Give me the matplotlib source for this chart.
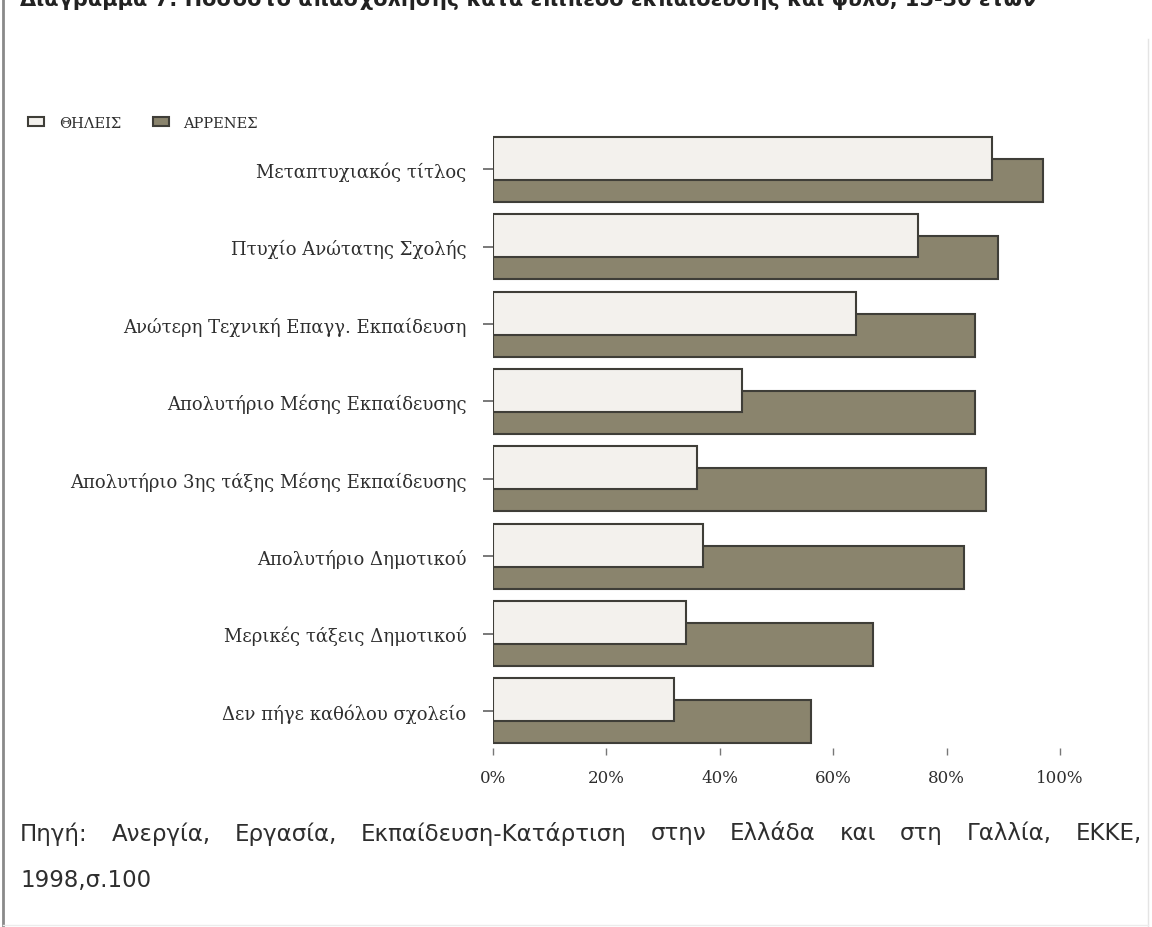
import matplotlib
matplotlib.use("Agg")
import matplotlib.pyplot as plt
from matplotlib.patches import Patch
from matplotlib.lines import Line2D
import numpy as np

# Education levels (top to bottom)
categories = [
    "Μεταπτυχιακός τίτλος",
    "Πτυχίο Ανώτατης Σχολής",
    "Ανώτερη Τεχνική Επαγγ. Εκπαίδευση",
    "Απολυτήριο Μέσης Εκπαίδευσης",
    "Απολυτήριο 3ης τάξης Μέσης Εκπαίδευσης",
    "Απολυτήριο Δημοτικού",
    "Μερικές τάξεις Δημοτικού",
    "Δεν πήγε καθόλου σχολείο",
]
female = [88, 75, 64, 44, 36, 37, 34, 32]
male = [97, 89, 85, 85, 87, 83, 67, 56]
series_names = ["ΘΗΛΕΙΣ", "ΑΡΡΕΝΕΣ"]
xtick_values = [0, 20, 40, 60, 80, 100]
xtick_labels = ["0%", "20%", "40%", "60%", "80%", "100%"]
title_text = "Διάγραμμα 7: Ποσοστό απασχόλησης κατά επίπεδο εκπαίδευσης και φύλο, 15-30 ετών"
source_line1 = "Πηγή: Ανεργία, Εργασία, Εκπαίδευση-Κατάρτιση στην Ελλάδα και στη Γαλλία, ΕΚΚΕ,"
source_line2 = "1998,σ.100"

FEMALE_FILL = "#f3f1ed"
MALE_FILL = "#8a846d"
EDGE = "#3f3e38"
TEXT = "#2e2e2e"
SERIF = ["DejaVu Serif"]
SANS = ["DejaVu Sans"]

W, H = 1152, 928
fig = plt.figure(figsize=(W / 100, H / 100), dpi=100)
fig.patch.set_facecolor("white")

# Plot area in pixel terms: x 493..1060, y 124..749
left, right = 493 / W, 1060 / W
top, bottom = 1 - 124 / H, 1 - 749 / H
ax = fig.add_axes([left, bottom, right - left, top - bottom])

y = np.arange(len(categories))
bar_h = 0.555
offset = 0.142
ax.barh(y + offset, male, height=bar_h, color=MALE_FILL, edgecolor=EDGE,
        linewidth=1.5, zorder=2, label=series_names[1])
ax.barh(y - offset, female, height=bar_h, color=FEMALE_FILL, edgecolor=EDGE,
        linewidth=1.5, zorder=3, label=series_names[0])

ax.set_xlim(0, 100)
ax.set_ylim(7.48, -0.6)
for s in ax.spines.values():
    s.set_visible(False)

ax.set_yticks(y)
ax.set_yticklabels(categories, family=SERIF, fontsize=13, color=TEXT)
ax.set_xticks(xtick_values)
ax.set_xticklabels(xtick_labels, family=SERIF, fontsize=12, color=TEXT)
ax.tick_params(axis="y", length=7, width=1.1, pad=12, color="#555555")
ax.tick_params(axis="x", length=5, width=1.0, pad=10, color="#777777")

# Legend in the upper-left corner
handles = [
    Patch(facecolor=FEMALE_FILL, edgecolor=EDGE, linewidth=1.5),
    Patch(facecolor=MALE_FILL, edgecolor=EDGE, linewidth=1.5),
]
fig.legend(handles, series_names, loc="center left",
           bbox_to_anchor=(28 / W, 1 - 124 / H), ncol=2, frameon=False,
           prop={"family": SERIF, "size": 10.5}, handlelength=1.1,
           handleheight=0.55, handletextpad=1.0, columnspacing=2.2,
           borderaxespad=0, borderpad=0, labelcolor=TEXT)

# Title line along the top edge
fig.text(20 / W, 1 - 6 / H, title_text, family=SANS, fontsize=15,
         fontweight="bold", color="#222222", va="baseline", ha="left")


def justified_line(text, x0, x1, yc, **kw):
    words = text.split(" ")
    renderer = fig.canvas.get_renderer()
    arts = [fig.text(0, yc, w, va="center", ha="left", **kw) for w in words]
    widths = [a.get_window_extent(renderer).width for a in arts]
    gap = ((x1 - x0) - sum(widths)) / (len(words) - 1)
    x = x0
    for a, wd in zip(arts, widths):
        a.set_x(x / W)
        x += wd + gap


justified_line(source_line1, 20, 1142, 1 - 834 / H, family=SANS,
               fontsize=16.5, color=TEXT)
fig.text(20 / W, 1 - 881 / H, source_line2, family=SANS, fontsize=16.5,
         color=TEXT, va="center", ha="left")

# Page frame
fig.add_artist(Line2D([3 / W, 3 / W], [0, 1], color="#8a8a8a", lw=2.0))
fig.add_artist(Line2D([1148 / W, 1148 / W], [0, 1 - 40 / H], color="#e4e4e4", lw=1.0))
fig.add_artist(Line2D([3 / W, 1148 / W], [2 / H, 2 / H], color="#ececec", lw=1.0))

fig.savefig("out.png", dpi=100, facecolor="white")
